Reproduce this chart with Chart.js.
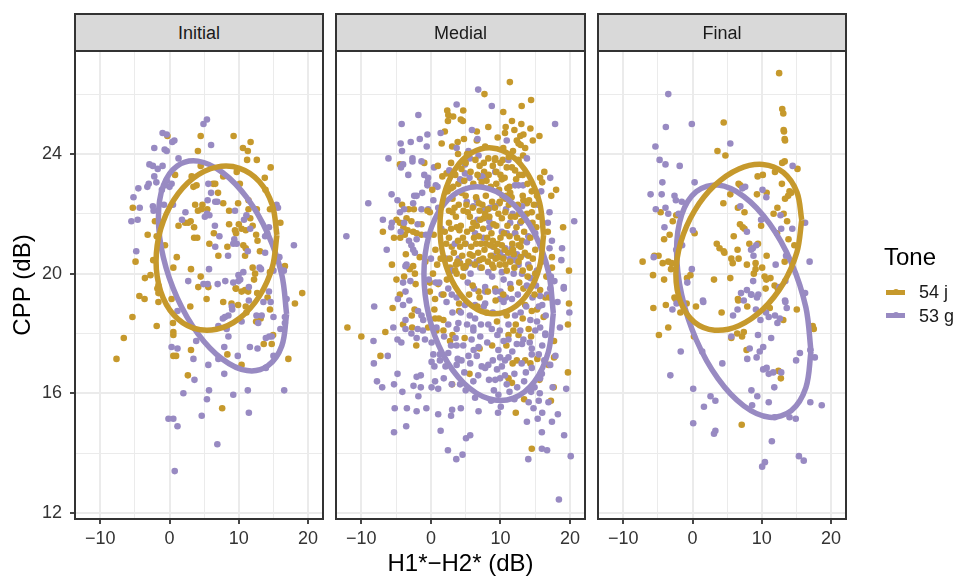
<!DOCTYPE html>
<html>
<head>
<meta charset="utf-8">
<title>CPP by H1*-H2*</title>
<script src="https://cdn.jsdelivr.net/npm/chart.js@4"></script>
<style>
  html, body { margin: 0; padding: 0; background: #fff; overflow: hidden; }
  body { width: 954px; height: 576px; position: relative; font-family: "Liberation Sans", sans-serif; }
  canvas { position: absolute; left: 0; top: 0; }
  .strip { position: absolute; top: 13px; height: 39px; box-sizing: border-box; background: #D9D9D9; border: 2px solid #333;
           text-align: center; line-height: 36px; font-size: 18px; color: #1a1a1a; }
  .legend-title { position: absolute; left: 884px; top: 243px; font-size: 24px; line-height: 28px; color: #000; }
  .key { position: absolute; left: 886px; width: 19px; height: 5px; }
  .key i { position: absolute; left: 7px; top: -1px; width: 6px; height: 6px; border-radius: 50%; background: inherit; }
  .key-label { position: absolute; left: 919px; font-size: 18px; line-height: 22px; color: #1a1a1a; white-space: nowrap; }
</style>
</head>
<body>
<canvas id="initial" width="954" height="576"></canvas>
<canvas id="medial" width="954" height="576"></canvas>
<canvas id="final" width="954" height="576"></canvas>

<div class="strip" style="left:74px;width:250px">Initial</div>
<div class="strip" style="left:335px;width:251px">Medial</div>
<div class="strip" style="left:597px;width:250px">Final</div>

<div class="legend-title">Tone</div>
<div class="key" style="top:290px;background:#C6992C"><i></i></div>
<div class="key-label" style="top:281px">54 j</div>
<div class="key" style="top:313px;background:#988AC2"><i></i></div>
<div class="key-label" style="top:305px">53 g</div>

<script>
const xBreaks = [-10, -5, 0, 5, 10, 15, 20];
const xMajor = [-10, 0, 10, 20];
const yBreaks = [12, 14, 16, 18, 20, 22, 24, 26];
const yMajor = [12, 16, 20, 24];

const GOLD = '#C6992C';
const PURPLE = '#988AC2';

// [H1*-H2*, CPP]
const initialGold = [[9.25,24.6],[4.5,24.6],[-.3,24.6],[11.7,24.4],[10.6,24.2],[11.3,24.1],[4.1,24.1],[11.2,23.8],[12.6,23.8],[14.6,23.55],[4.5,23.6],
[.8,23.3],[3.2,23.25],[3.45,22.9],[3.9,22.95],[6.3,23],[6.6,23],[7.75,23.25],[9.7,23.4],[13.75,23.2],[10.15,23],[13.85,22.8],
[7,22.7],[3.7,22.3],[4.75,22.3],[4.1,22.1],[4.6,22.15],[5.45,22.15],[7.75,22.35],[9.9,22.35],[11.4,22.45],[8.6,22.1],[11.4,22.15],[12.6,22.15],[14.5,22.15],[-5.3,22.2],
[11.65,21.85],[16,21.7],[-2.1,21.75],[1.3,21.6],[2.25,21.7],[3.05,21.75],[3.55,21.55],[2.7,21.7],[8.6,21.65],[10,21.65],[10.4,21.5],[11,21.45],[12,21.6],[9.45,21.45],[9.6,21.35],[6.4,21.35],[-3.15,21.3],[12.5,21.3],[-1.85,21.25],[3.55,21.2],[4,21.2],[12.7,21.1],
[-.65,20.95],[5.75,21],[8.35,20.9],[10.65,20.95],[11,20.85],[10.9,20.6],[7.05,20.6],[13.05,20.75],
[-4.9,20.4],[-2.35,20.45],[1.05,20.55],[.55,20.2],[3.1,20.15],[16.65,20.25],[12,20.2],[12.35,20],[12.2,19.8],[4.5,19.9],[-2.75,19.95],[-3.55,19.85],
[14.5,20.05],[-1.6,19.6],[4.15,19.55],[5.6,19.55],[9.55,19.5],[10.9,19.45],
[-1.75,19.5],[-1.6,19.35],[9.6,19.5],[10.4,19.4],[11.35,19.4],[12.65,19.35],[19.15,19.35],[14.15,19.2],[-4.35,19.25],[-3.6,19.15],[-1.6,19.05],[.3,19.15],[5.35,19.15],[7.75,19.05],[8.95,19],[9.9,18.95],[11,18.9],[18.1,19],[3,18.9],[14.5,18.8],[-5.35,18.55],[11.1,18.7],[12.5,18.4],[13.15,18.5],[.5,18.35],[-1.85,18.25],[.55,18.05],[.55,17.95],[-6.6,17.85],[14.95,17.95],[13.6,17.65],[14.75,17.65],[3.1,17.45],[8.35,17.3],[.55,17.25],[.95,17.25],[-7.65,17.15],[17.15,17.15],[10.4,16.95],[2.65,16.6],[7.6,15.5]];

const initialPurple = [[5.4,25.15],[4.9,25],[-1,24.7],[-.4,24.65],[.7,24.45],[.4,24.4],[-2.2,24.2],[-.7,24.15],[-.4,24.1],[6,24.3],[1.3,23.85],
[-2.9,23.65],[-2.4,23.6],[-1.7,23.5],[-1,23.6],[-2.2,23.25],[-1.9,23.05],[-3,23],[-3.2,22.9],[-.4,23.1],[.3,23],[0,22.9],[-.7,22.95],
[-4.5,22.85],[-5.2,22.55],[-4.3,22.2],[-5.5,21.75],[-4.6,21.8],[-2.4,22.25],[-2.3,22.1],[-.8,22.3],[.5,22.3],[-1.1,22.8],
[5.6,23],[6,22.7],[5.5,22.45],[6.6,22.4],[6.9,22.4],[2.3,22.05],[1.8,21.8],[5.1,21.9],[5.75,21.95],[5.4,22],
[9.45,22.1],[11.1,21.95],[10.75,21.8],[11.65,21.5],[6.55,21.6],[7.2,21.25],[9.35,21.15],[9.2,21],[9.7,21],[6.6,20.9],[8.45,20.6],[11.3,20.75],[13.8,20.7],
[14.35,21.55],[14.1,21.35],[13.8,21.25],[15.45,22.3],[15.65,22.2],[17.95,20.95],[15.85,20.55],[15,20.1],[16.5,20.1],[13,20.2],[13.2,20.15],
[-4.8,20.75],[5.7,20.15],[10.65,20.05],[9.95,19.95],[10.2,19.8],[2.7,19.75],[4.9,19.65],[5.5,19.65],[6.95,19.65],[8.05,19.75],[9.2,19.7],[9.95,19.75],[11.45,19.55],
[14.35,19.4],[14.6,19.05],[13.55,19.05],[11.45,19.1],[9,18.9],[9.05,18.8],[16.9,19.15],[1.15,18.75],[8.5,18.6],[8,18.55],[7.7,18.5],
[12.55,18.6],[13.3,18.6],[15,18.55],[12.8,18.35],[10.4,18.4],[16.65,18.55],[16.65,18.35],[7.05,18.25],[8.25,18.15],[8.5,17.9],[3.85,17.75],
[16,18.15],[14.75,17.9],[14.4,17.9],[13.9,17.85],[11.6,17.55],[12.7,17.5],[7.9,17.55],[.3,17.55],[1.15,17.5],[3.45,17.15],[7.05,17.15],[9.85,17.25],[5.6,16.95],[7.9,16.65],[3.6,16.45],
[15,17.25],[13.9,16.85],[2,16],[5.7,16.1],[5.4,15.8],[9.2,15.95],[11.3,16.1],[16.55,16.1],[11.45,15.35],[4.65,15.25],[-.15,15.15],[.55,15.15],[1.15,14.9],[6.9,14.3],[.75,13.4]];

const medialGold = [[2.35,25.45],[2.5,25.3],[3.2,25.25],[2.45,25.1],[4.3,25.15],[2,24.75],[1.55,24.35],[3.05,24.25],[3.85,24.4],[-4.45,23.65],[-.95,23.7],[1.65,23.25],[2.25,23.35],[3.2,22.9],[3.95,23],[-4.15,22.3],[-3.2,22.15],[-2.45,22.15],[-.15,22.05],[-4.95,21.8],[-3.5,21.85],[-2.8,21.75],[-4.45,21.7],[-3.95,21.55],[-3.35,21.45],[-2.55,21.4],[-6.9,21.4],[-1.35,21.65],[-5.3,21.2],[-4.4,21.2],[-3.75,21.3],[-2.05,21.35],[-1.35,21.3],[-3.6,20.65],[-1.6,20.55],[.65,20.8],[2.6,21.2],[3,20.9],[-5.6,20.3],[.9,20.3],[-3.05,20.15],[-2.55,20.25],[-2.3,20],[-3.85,19.9],[-4.95,19.8],[-2.2,19.65],[-.15,19.7],[1.05,19.65],[2.6,21.7],[3.7,21.55],[3.6,20.3],[4.2,20.35],[2.75,20.2],[3.7,20],
[11.35,26.4],[7.7,26],[4.65,25.45],[4.6,25.1],[14.4,25.8],[13.05,25.6],[10.4,25.4],[11.65,25.1],[13,25],[8.25,24.9],[10.75,24.9],[12,24.8],[14.3,24.85],[15.6,24.6],[13.3,24.65],[12.85,24.6],[12.35,24.45],[12.6,24.35],[13.55,24.2],[14.65,24.45],[10.65,24.7],[9.6,24.55],[6.6,24.75],[6.6,24.45],[4.75,24.5],[7.8,24.25],[9.25,23.85],[10.35,23.8],[8.25,23.85],[11.65,23.55],[10.9,23.55],[12.1,23.45],[13.25,23.95],[13.2,23.3],[16.3,23.4],[15.7,23.2],[16,23.05],[18,22.8],[17.3,22.6],[19,21.55],[19.85,20.1],
[7.65,23.4],[7.05,23.2],[10,23.3],[10.2,23.15],[9.4,23],[12.25,23.15],[11.3,22.9],[14.5,22.75],[15.25,22.6],[13.3,22.45],[13.8,22.35],[14.5,22.05],[15.5,21.9],[15.15,21.55],[16.8,21.4],[17.4,20.55],[17.4,20.2],[15,20.8],[14.65,20.5],[13.1,21.1],[12.6,20.95],[12.1,21.35],[9.85,22.35],[10.7,22.5],[11.4,22.7],
[-12,18.2],[-10,17.9],[-6.55,18.05],[-7.25,17.25],[-5.5,18.85],[-4.45,19.3],[-2.35,18.8],[-2.75,18.6],[-4,18.3],[-2.7,18.2],[-2.1,17.6],[.6,19.15],[-.15,19.4],[.5,18.8],[.6,18.5],[1.15,18.5],[1.8,18.45],[-.4,18.2],[.8,18.1],[1.8,18.1],[3.1,17.95],[2.75,17.75],[4.85,17.85],[7,17.5],[8.8,17.6],[10.85,17.6],[4.05,19],[4.05,18.75],[3.05,16.3],[5.55,16.65],[11.65,16.35],[11.15,16.5],[11.75,17],[12.35,17.1],[13.55,17.1],[14.3,17],[15.3,17.15],[16.9,16.95],[17.7,17.2],[19.7,16.7],[15.6,16.45],[17.65,16.2],[19.7,18.3],[19.85,19],[17.7,17.75],[13.4,15.8],[17.25,15.75],[12.2,15.35],[14.5,14.15],[11.85,18.1],[11.15,17.95],[12.6,17.95],[14.05,18.15],[14.4,17.9],[14.5,18.75],[15.25,18.8],[16.2,18.55],[15.7,19.45],[16.45,19.2],[13.55,18.95],[6.85,19.4],[9.25,19.5],[13.3,19.5]];

// dense centre of the medial panel, sits over the purple dots
const medialGoldCentre = [[1.9,22.4],[2.6,22.1],[3.1,22.5],[3.6,21.9],[4,22.3],[4.3,21.6],[4.7,22.1],[5,22.6],[5.2,21.4],[5.6,21.9],[6,22.2],[6.2,21.2],[6.6,21.6],[7,22.1],[7.2,21],[7.5,21.5],[7.9,22.6],[8.1,21.2],[8.4,21.9],[8.8,22.4],[9.1,20.9],[9.4,21.6],[9.7,22],[10,21.2],[10.3,22.6],[10.6,20.8],[11,21.6],[11.2,22.3],[11.7,21],[12.1,21.9],[12.5,22.3],[12.9,20.9],[13.4,21.4],[13.8,22],[14.3,21.2],[2.2,21],[2.9,21.5],[3.3,20.7],[3.9,21.1],[4.5,20.6],[4.9,21],[5.4,20.4],[5.8,20.9],[6.3,20.3],[6.8,20.7],[7.3,20.2],[7.7,20.8],[8.2,20.4],[8.6,20.6],[9,20.2],[9.3,20.5],[9.9,20.3],[10.4,20.5],[10.9,20.1],[11.4,20.4],[12,20.2],[12.6,20.4],[13.2,20.1],[3.1,22.05],[4.1,21.45],[5.1,22.3],[6.5,22.55],[7.4,22.3],[8.7,21.35],[9.6,21],[10.2,21.85],[11.3,21.25],[12.3,21.55],[3.5,23.3],[4.8,23.1],[6.1,23],[7.3,23.05],[8.6,22.9],[9.8,22.8],[11,22.85],[12.7,23.3],[13.9,23],[14.8,22.3],[5,23.7],[6.4,23.8],[7.6,23.7],[8.9,23.6],[10,23.7],[11.2,23.9],[12.6,23.8],[6,19.6],[7,19.2],[8.2,19.4],[9.3,19.1],[10.4,19.3],[11.5,19.5],[12.7,19.7],[13.9,19.9],[4.6,19.9],[5.5,19.3],[2.3,19.8],[1.4,20.5],[.4,21.3],[-.5,22.1],[.2,22.8],[1,23.6],[15,20],[15.9,20.4],[14.9,19.3],[16.6,19.9],[17,19.2],[1.8,19.3],[.3,20],[-.8,20.4],[6.7,18.9],[8,18.7],[9.5,18.4],[10.9,18.6],[12.2,18.3],[13.2,18.5],
[2.4,22.75],[3.4,22.2],[4.4,22.7],[5.3,22.05],[6.1,21.7],[6.9,22.35],[7.6,21.85],[8.2,22.15],[9,21.65],[9.9,22.4],[10.7,22.05],[11.6,22.55],[12.4,21.2],[13,21.75],[14,20.6],[2.7,20.5],[3.5,20.1],[4.2,20.9],[5,20.25],[5.6,20.65],[6.5,21],[7,20.45],[7.9,21],[8.5,20.95],[9.5,20.75],[10.2,20.95],[11.1,20.7],[11.9,20.65],[13.5,20.7],[4.4,23.5],[5.7,23.4],[7,23.6],[8.3,23.3],[9.4,23.4],[10.6,23.2],[2.9,23.7],[3.9,24],[5.2,24],[11.8,24.1],[12.9,24.3],
[2,21.4],[2.9,22.85],[4.6,21.2],[5.9,21.5],[6.9,21.25],[7.1,21.8],[7.8,22],[8.9,21.1],[9.2,22.2],[10.5,21.35],[10.9,22.6],[11.5,21.9],[12.7,22],[13.2,22.6],[14.1,22.45],[14.6,21.7],[3.8,20.4],[4.7,20.2],[6,20.6],[7.5,20.5],[8.8,20.3],[9.7,20.55],[10.7,20.3],[11.8,20.8],[12.9,20.55],[14.2,20.2],[6.7,23.3],[8,23.1],[9.2,23.8],[10.4,24.2]];

const medialPurple = [[3.7,25.65],[-1.8,25.3],[-4.2,25],[1.4,24.7],[-.5,24.65],[-1.6,24.5],[-2.9,24.4],[-4.35,24.35],[-.6,24.25],[-4.15,24.1],[3.7,24.2],[-6.1,23.85],[-2.65,23.85],[-2.65,23.75],[-1.35,23.75],[-4,23.65],[-4.3,23.55],[.45,23.55],[-3.25,23.3],[-.95,23.3],[-.4,23.2],[-.5,23.05],[-.5,22.95],[.7,22.95],[.95,22.9],[2.65,23.45],[-5.65,22.65],[-4.8,22.45],[-2.4,22.6],[-2.05,22.6],[-1.25,22.7],[.35,22.45],[-2.55,22.35],[-9,22.35],[-4.45,22.05],[-3.85,22.15],[-1.35,22.15],[-.4,22.15],[1.05,22.2],[-6.9,21.8],[-5.6,21.7],[-5.7,21.55],[-3.85,21.7],[-1.9,21.65],[-4.35,21.4],[-3.15,21.1],[-2.8,20.95],[-2.05,21.15],[-.7,21.3],[-12.15,21.25],[-6.35,20.8],[-2.55,20.8],[-2.3,20.7],[-3.5,20.3],[-3.65,20.25],[-4,19.7],[-2.95,19.75],[.7,19.7],[3.45,21],[4.2,23.15],
[6.8,26.15],[8.75,25.6],[5.9,24.8],[6.7,24.5],[17.85,25],[10.9,24.45],[13.8,23.85],[11.15,23.8],[5.4,24.1],[6.85,23.95],[5.6,23.85],[4.9,23.65],[9.25,23.4],[7.3,23.25],[7.65,23.2],[5.55,23.2],[4.6,23.1],[4.9,23.35],[17.15,23.2],[12.6,22.95],[13.25,22.95],[12.1,22.95],[15.85,22.75],[15.35,22.3],[17.05,22.05],[20.6,21.75],[13.1,22.25],[11.75,22],[10.8,22.15],[9.25,22.25],[8.5,22.2],[7.75,22.15],[6.1,22.25],[6.6,22.45],[5.15,22.4],[6.7,21.8],[8.4,21.75],[11.4,21.7],[12.85,21.7],[13.3,21.8],[16.8,21.7],[8.4,21.55],[6.35,21.35],[10.2,21.4],[10.9,21.35],[12.1,21.35],[15,21.35],[14,21.25],[7.55,21.2],[17.4,21.1],[13.8,21.05],[17.05,20.85],[18.85,20.85],[8.95,20.9],[9.95,20.7],[10.7,20.85],[11.65,20.85],[8.9,20.6],[10.45,20.55],[12.35,20.65],[13.55,20.65],[11.4,20.5],[12.1,20.45],[12.6,20.3],[14,20.3],[18.75,20.45],[6.6,20.4],[5.6,20.35],[4.9,20.2],[10.2,20.05],[8.25,20.05],[5.7,20],[11.9,20],[13.1,20],[14.3,19.85],[15.25,20.1],[17.25,19.9],[17.75,19.75],[19.1,19.55],[10.45,19.8],[7.8,19.55],[11.4,19.65],[13.8,19.6],
[-8.15,18.9],[-4.75,19.15],[-4,18.95],[-3.1,19.1],[-3.65,19.4],[-1.85,18.75],[-1.35,18.6],[-1.1,18.45],[-3.65,18.45],[-3.65,18.15],[-5.4,18.2],[-2.8,18],[-1.9,18.15],[-1.15,18.1],[-2.05,17.85],[-.85,17.8],[.1,17.7],[-8.25,17.75],[-4.8,17.8],[-4.25,17.7],[-6.2,17.25],[-8.2,17],[.35,17.3],[.1,17.05],[.5,16.9],[1.3,17.3],[2.5,17.35],[1.3,17.1],[3.85,17.15],[3.7,16.95],[-4.8,16.65],[-7.75,16.4],[-7,16.2],[-5.3,16.3],[-4.1,16.05],[-2.05,16.55],[-1.45,16.6],[-2.5,16.25],[-1.45,16.2],[.6,16.4],[.1,16.2],[1.05,16.15],[1.85,16.5],[-1.8,15.9],[-5.2,15.5],[-3.45,15.5],[-2.05,15.4],[-.65,15.5],[1.05,15.3],[3.05,15.45],[2.9,15.25],[4.3,15.5],[6.85,15.4],[9.65,15.35],[10.05,15.55],[-5.3,14.7],[-3.55,14.9],[1.4,14.75],[5.05,14.5],[5.65,14.6],[2.45,14.1],[3.65,13.8],[4.55,13.95],[14,13.8],[15.95,14.15],[16.7,14.1],[20.1,13.9],[18.4,12.45],[13.8,15.05],[15.35,15.15],[16,15.35],[17.4,15.05],[18.25,15.3],[19.15,14.6],[15.95,14.7],[14.4,16.05],[15.65,16],[14.05,15.7],[14.75,15.5],[15.5,15.75],[16.9,15.7],[17.5,16.2],[19.45,16.15],[17.9,17.25],[17.15,16.95],[18.55,18.2],[19.1,19.5],[19.9,18.7],[18.2,19.05],
[6.35,15.85],[9.05,16.1],[11.3,16.05],[12,15.8],[8.65,15.75],[9.7,15.95],[6.1,16.4],[4.2,16.3],[4.8,16.7],[8.35,16.45],[9.25,16.45],[9.95,16.5],[10.65,16.6],[12,16.65],[13.65,16.7],[14.5,16.85],[15.95,16.65],[15.7,16.5],[7.3,16.9],[8.25,16.95],[7.8,16.85],[9.5,16.8],[10.2,16.9],[10.65,17.1],[9.95,17.2],[13.05,17],[14.5,17.3],[15.5,17.3],[16,17.6],[14.5,17.5],[16.45,17.95],[5.65,17],[5.4,17.25],[6.15,17.45],[6.85,17.55],[6.6,17.25],[9.7,17.45],[11.15,17.2],[12.35,17.65],[13.1,17.65],[11.15,17.8],[10.45,17.75],[9.55,17.95],[5.85,17.8],[3.7,17.6],[2.9,17.6],[4.65,17.6],[3.55,17.85],[3.7,18.15],[3.95,18.35],[2.5,18.3],[3.1,18.7],[6.1,18.2],[6.35,18.5],[6.1,18.1],[8.25,18.3],[8.75,18.15],[11.15,18.3],[12.85,18.1],[12.1,18.6],[14.3,18.45],[15.25,18.4],[15.7,18.2],[16.45,18],[13.3,17.8],[15,18.1],[10.45,19.05],[7.8,19],[6.35,18.95],[4.9,18.95],[11.65,19.15],[9.95,19.15],[7.8,19.4],[10,19.4],[15.7,19.25],[17.15,19.5],[2.25,19.05],[1.55,19.3],[16,18.95],
[1.5,21.5],[2.2,20.5],[3,20.1],[4,20.5],[5,21],[0,20.5],[-.3,19.8],[1.2,19.7],[2.5,19.5],[3.7,19.2],[7.1,20.2],[8.8,19.9],[9.3,19.4],[10.8,19.2],[12.5,19.3],[14.6,19.2],[15.5,18.9],[16.5,18.6],[6.2,19.5],[5.3,19.7],
[.8,18.2],[1.9,17.9],[2.1,16.9],[3,16.3],[4.4,17.1],[5,16.1],[5.2,18.3],[6.8,16.6],[7.1,17.9],[7.6,18.9],[8.1,17.7],[8.9,17.1],[9.9,18.1],[10.6,18.7],[10.9,16.3],[11.7,17.4],[12.4,16.2],[12.9,18.7],[13.4,16.4],[13.7,18.9],[14.2,17.7],[14.9,16.2],[15.1,19.6],[16.3,17.1],[16.7,19.3],[3,19.3],[4.3,18.7],[5.6,18.6],[7.2,18.3],[8.9,18.7]];

const finalGold = [[12.5,26.7],[12.95,25.5],[13.1,25.35],[13.15,24.8],[13.2,24.75],[13.3,24.5],[13.35,24.45],[4.5,25.05],[3.6,24.1],[4.75,23.95],[13.3,23.75],[12.95,23.7],[15.15,23.5],[11.9,23.4],[9.4,23.25],[10.15,23.3],[12.9,23],[6.65,23],[6.9,22.95],[14,22.75],[14.25,22.7],[10.7,22.7],[9.3,22.65],[5.45,22.65],[13.8,22.6],[13.35,22.5],[4.45,22.35],[6.55,22.2],[7.5,22.05],[12.25,22.2],[11.7,22],[13.15,22],[-4.6,22.05],[-2.35,21.95],[-2.85,21.75],[13.65,21.75],[9.9,21.6],[6.85,21.65],[7.25,21.55],[7.5,21.5],[.3,21.35],[-3.3,21.3],[-4.1,21.15],[12.2,21.35],[13.85,21.15],[5.95,21.25],[14.7,20.95],[3.5,21],[3.9,20.85],[4.5,20.75],[4.6,20.7],[6.5,20.8],[8.2,21],[9.45,21],[10.7,20.6],[-5.5,20.6],[-4.9,20.6],[-7.2,20.4],[-4.3,20.35],[-3.5,20.4],[-3,20.35],[-3.1,20.15],[5.6,20.5],[5.8,20.35],[6.65,20.5],[7.85,20.3],[9.1,20.35],[10.05,20.2],[9.1,20.15],[8.85,20],[13.3,20.4],[-5.7,19.95],[-4.1,19.8],[-.3,19.95],[-.8,19.85],[3.1,19.8],[5.45,19.85],[10.4,19.9],[10.65,19.8],[11.25,19.85],[11.85,19.6],[10.55,19.5],[12.3,19.5],[-2.6,19.2],[6.55,19.15],
[6.6,19.1],[7.9,18.9],[-5.65,18.85],[-3.85,18.95],[.5,18.9],[-1.75,18.7],[4.2,18.7],[11.15,18.85],[15.05,18.8],[13.1,18.45],[-3.5,18.2],[-4.85,17.95],[.2,17.9],[6.45,18],[7.4,18.05],[7.15,17.9],[5.6,17.85],[17.35,18.25],[17.5,18.15],[7.8,17.45],[12.4,16.75],[12.75,16.5],[7.1,14.95],[-2.45,19.15],[-.85,19]];

const finalPurple = [[-3.5,26],[-.1,25],[-3.85,24.9],[5.45,24.35],[-5.35,24.25],[-4.75,23.8],[-3.9,23.65],[-1.85,23.6],[14.45,23.6],[-4.35,23.05],[.3,23.05],[-6.05,22.65],[-4.45,22.65],[-2.6,22.6],[-2.4,22.45],[-1.55,22.4],[7.2,22.85],[7.6,22.9],[10.1,22.8],[10.65,22.55],[-5.3,22.15],[-3.9,22.2],[6.9,22.25],[-3.5,22],[-2,22],[12.7,21.95],[9.9,21.8],[16.25,21.7],[-4.05,21.55],[.05,21.45],[7.85,21.4],[12.8,21.5],[14.4,21.5],[-1.5,20.95],[-2.35,20.8],[9.2,20.95],[8.7,20.85],[8.45,20.8],[8.8,20.6],[13.5,20.6],[-5.6,20.55],[16.9,20.4],[12,20.3],[-.1,20.15],[-.75,19.7],[8.75,19.75],[13.4,19.75],[12.55,19.55],[7,19.35],[7.85,19.45],[16.25,19.35],[8.45,19.3],[9.5,19.3],[9.3,19.2],[1.5,19.1],[13.35,19.1],
[8.5,19.3],[1.55,19.05],[7.4,19.1],[13.4,19.05],[13.6,18.85],[-2.9,18.8],[-2.3,19],[5.85,18.6],[6.5,18.8],[9.15,18.8],[10.6,18.7],[11.9,18.6],[9.8,18.45],[11,18.55],[12.25,18.35],[12.6,18.5],[9.45,17.95],[11.35,17.85],[5.6,17.9],[10.2,17.55],[8.25,17.5],[9.7,17.4],[15.5,17.35],[17,17.45],[-1.7,17.4],[1.4,17.4],[17.65,17.2],[14.95,17.1],[9.25,17.2],[7.9,17.15],[4.3,17],[10.2,16.8],[10.7,16.85],[11,16.65],[11.65,16.7],[12.8,16.7],[-3.2,16.6],[.1,16.15],[11.8,16.2],[8.5,16.1],[9.35,15.9],[2.6,15.9],[3.3,15.75],[1.65,15.55],[8.6,15.6],[11,15.7],[17,15.7],[18.65,15.6],[11.85,15.2],[14,15.2],[14.9,15.15],[.1,15],[3.3,14.75],[3.1,14.65],[11.45,14.4],[15.35,13.9],[16.05,13.75],[10.45,13.7],[10.05,13.55]];

// ellipse outlines, first point repeated to close
const initialGoldRing = [[15.5,21.29],[14.84,22.29],[12.95,23.08],[10.12,23.52],[6.78,23.56],[3.44,23.19],[.61,22.46],[-1.28,21.48],[-1.94,20.41],[-1.28,19.41],[.61,18.62],[3.44,18.18],[6.78,18.14],[10.12,18.51],[12.95,19.24],[14.84,20.22],[15.5,21.29]];
const initialPurpleRing = [[16.9,18.65],[16.2,19.97],[14.19,21.33],[11.19,22.53],[7.65,23.38],[4.11,23.76],[1.11,23.6],[-.9,22.94],[-1.6,21.87],[-.9,20.55],[1.11,19.19],[4.11,17.99],[7.65,17.14],[11.19,16.76],[14.19,16.92],[16.2,17.58],[16.9,18.65]];
const medialGoldRing = [[16.2,21.29],[15.63,22.36],[14.02,23.29],[11.6,23.94],[8.75,24.2],[5.9,24.04],[3.48,23.49],[1.87,22.62],[1.3,21.57],[1.87,20.5],[3.48,19.57],[5.9,18.92],[8.75,18.66],[11.6,18.82],[14.02,19.37],[15.63,20.24],[16.2,21.29]];
const medialPurpleRing = [[17.6,18.68],[16.89,20.07],[14.88,21.35],[11.86,22.32],[8.3,22.84],[4.74,22.82],[1.72,22.27],[-.29,21.27],[-1,19.98],[-.29,18.59],[1.72,17.31],[4.74,16.34],[8.3,15.82],[11.86,15.84],[14.88,16.39],[16.89,17.39],[17.6,18.68]];
const finalGoldRing = [[15.76,21.79],[15.07,22.72],[13.1,23.38],[10.16,23.65],[6.68,23.5],[3.2,22.95],[.26,22.09],[-1.71,21.04],[-2.4,19.97],[-1.71,19.04],[.26,18.38],[3.2,18.11],[6.68,18.26],[10.16,18.81],[13.1,19.67],[15.07,20.72],[15.76,21.79]];
const finalPurpleRing = [[17.1,17.4],[16.36,18.87],[14.26,20.37],[11.12,21.67],[7.4,22.58],[3.68,22.96],[.54,22.74],[-1.56,21.97],[-2.3,20.76],[-1.56,19.29],[.54,17.79],[3.68,16.49],[7.4,15.58],[11.12,15.2],[14.26,15.42],[16.36,16.19],[17.1,17.4]];

const FONT = '"Liberation Sans", sans-serif';

function toXY(pairs) {
    return pairs.map(function (p) { return { x: p[0], y: p[1] }; });
}

function panelFrame(id) {
    return {
        id: id,
        afterDraw: function (chart) {
            const a = chart.chartArea;
            const c = chart.ctx;
            c.save();
            c.strokeStyle = '#333';
            c.lineWidth = 2;
            c.strokeRect(a.left, a.top, a.right - a.left, a.bottom - a.top);
            c.restore();
        }
    };
}

function ringDataset(pairs, color) {
    return {
        data: toXY(pairs),
        showLine: true,
        borderColor: color,
        borderWidth: 5.5,
        tension: 0.34,
        pointRadius: 0,
        fill: false
    };
}

function dotDataset(pairs, color) {
    return {
        data: toXY(pairs),
        showLine: false,
        pointRadius: 3.3,
        pointBorderWidth: 0,
        pointBackgroundColor: color
    };
}

function makePanel(id, gold, goldOver, purple, goldRing, purpleRing, left, right, withY, withXTitle) {
    return new Chart(document.getElementById(id).getContext('2d'), {
        type: 'scatter',
        data: {
            // first dataset ends up on top
            datasets: [
                ringDataset(goldRing, GOLD),
                ringDataset(purpleRing, PURPLE),
                dotDataset(goldOver, GOLD),
                dotDataset(purple, PURPLE),
                dotDataset(gold, GOLD)
            ]
        },
        plugins: [panelFrame('frame_' + id)],
        options: {
            responsive: false,
            animation: false,
            layout: { padding: { left: left, right: right, top: 51, bottom: 0 } },
            plugins: { legend: { display: false }, tooltip: { enabled: false } },
            scales: {
                x: {
                    type: 'linear',
                    min: -13.64,
                    max: 22.15,
                    afterBuildTicks: function (s) { s.ticks = xBreaks.map(function (v) { return { value: v }; }); },
                    afterFit: function (s) { s.height = 57; },
                    border: { display: false },
                    grid: {
                        color: '#EBEBEB',
                        lineWidth: function (c) { return xMajor.includes(c.tick.value) ? 2 : 1; },
                        tickColor: function (c) { return xMajor.includes(c.tick.value) ? '#333' : 'rgba(0,0,0,0)'; },
                        tickWidth: 1.8,
                        tickLength: 5
                    },
                    ticks: {
                        autoSkip: false,
                        maxRotation: 0,
                        padding: 4,
                        color: '#333',
                        font: { family: FONT, size: 18 },
                        callback: function (v) {
                            if (!xMajor.includes(v)) return '';
                            return String(v).replace('-', '\u2212');
                        }
                    },
                    title: {
                        display: withXTitle,
                        text: 'H1*\u2212H2* (dB)',
                        color: '#000',
                        font: { family: FONT, size: 24 },
                        padding: { top: 0, bottom: -3 }
                    }
                },
                y: {
                    type: 'linear',
                    min: 11.8,
                    max: 27.44,
                    afterBuildTicks: function (s) { s.ticks = yBreaks.map(function (v) { return { value: v }; }); },
                    afterFit: function (s) { s.width = withY ? 75 : 0; },
                    border: { display: false },
                    grid: {
                        color: '#EBEBEB',
                        drawTicks: withY,
                        lineWidth: function (c) { return yMajor.includes(c.tick.value) ? 2 : 1; },
                        tickColor: function (c) { return yMajor.includes(c.tick.value) ? '#333' : 'rgba(0,0,0,0)'; },
                        tickWidth: 1.8,
                        tickLength: 5
                    },
                    ticks: {
                        display: withY,
                        autoSkip: false,
                        padding: 8,
                        color: '#333',
                        font: { family: FONT, size: 18 },
                        callback: function (v) { return yMajor.includes(v) ? String(v) : ''; }
                    },
                    title: {
                        display: withY,
                        text: 'CPP (dB)',
                        color: '#000',
                        font: { family: FONT, size: 24 },
                        padding: { top: 9, bottom: 0 }
                    }
                }
            }
        }
    });
}

makePanel('initial', initialGold, [], initialPurple, initialGoldRing, initialPurpleRing, 0, 631, true, false);
makePanel('medial', medialGold, medialGoldCentre, medialPurple, medialGoldRing, medialPurpleRing, 336, 369, false, true);
makePanel('final', finalGold, [], finalPurple, finalGoldRing, finalPurpleRing, 598, 108, false, false);
</script>
</body>
</html>
